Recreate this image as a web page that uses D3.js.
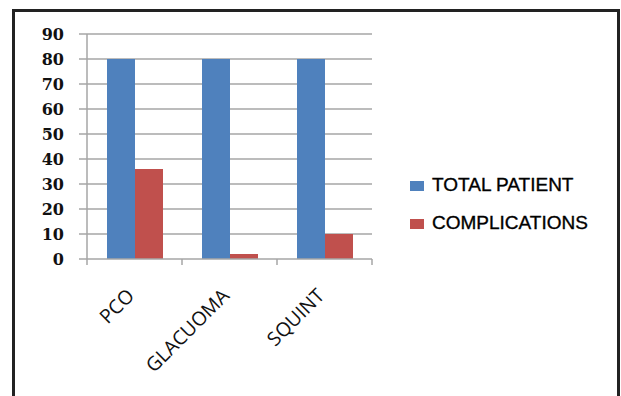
<!DOCTYPE html>
<html lang="en">
<head>
    <meta charset="UTF-8">
    <title>Patients and complications</title>
    <style>
        body { margin: 0; background: #fff; }
        svg { display: block; }
        .grid line { stroke: #a6a6a6; stroke-width: 1.5; }
        .ylab { font-family: "DejaVu Serif", serif; font-weight: bold; font-size: 16px; fill: #111; }
        .xlab { font-family: "Open Sans", sans-serif; font-size: 19.5px; fill: #111; }
        .legend text { font-family: "Liberation Sans", sans-serif; font-size: 19px; fill: #000; stroke: #000; stroke-width: 0.35; }
    </style>
</head>
<body>
    <svg width="621" height="396"></svg>
    <script src="https://d3js.org/d3.v7.min.js"></script>
    <script>
        const categories = ["PCO", "GLACUOMA", "SQUINT"];
        const seriesNames = ["TOTAL PATIENT", "COMPLICATIONS"];
        const totalPatient = [80, 80, 80];
        const complications = [36, 2, 10];
        const yTicks = [0, 10, 20, 30, 40, 50, 60, 70, 80, 90];
        const colors = ["#4f81bd", "#c0504d"];

        const svg = d3.select("svg");

        // frame round the whole chart
        svg.append("rect")
            .attr("x", 13.5).attr("y", 10.5)
            .attr("width", 605).attr("height", 400)
            .attr("fill", "none")
            .attr("stroke", "#222")
            .attr("stroke-width", 3);

        const plotLeft = 87, plotRight = 372, plotTop = 34, plotBottom = 259;

        const x = d3.scaleBand().domain(categories).range([plotLeft, plotRight]);
        const y = d3.scaleLinear().domain([0, 90]).range([plotBottom, plotTop]);
        const inner = d3.scaleBand().domain(seriesNames).range([0, 56]);

        // gridlines
        svg.append("g").attr("class", "grid")
            .selectAll("line").data(yTicks.filter(d => d > 0)).enter()
            .append("line")
            .attr("x1", plotLeft).attr("x2", plotRight)
            .attr("y1", d => y(d)).attr("y2", d => y(d));

        // y tick labels
        svg.append("g")
            .selectAll("text").data(yTicks).enter()
            .append("text")
            .attr("class", "ylab")
            .attr("x", 64)
            .attr("y", d => y(d) + 6)
            .attr("text-anchor", "end")
            .text(d => d);

        // y axis line with small ticks
        svg.append("line")
            .attr("x1", plotLeft).attr("x2", plotLeft).attr("y1", plotTop).attr("y2", plotBottom)
            .attr("stroke", "#a6a6a6").attr("stroke-width", 1.5);
        svg.append("g").selectAll("line").data(yTicks).enter()
            .append("line")
            .attr("x1", plotLeft - 8).attr("x2", plotLeft)
            .attr("y1", d => y(d)).attr("y2", d => y(d))
            .attr("stroke", "#a6a6a6").attr("stroke-width", 1.5);

        // bars
        const rows = categories.map((c, i) => ({ cat: c, vals: [totalPatient[i], complications[i]] }));
        const groups = svg.append("g").selectAll("g").data(rows).enter()
            .append("g")
            .attr("transform", d => "translate(" + (x(d.cat) + 20) + ",0)");
        groups.selectAll("rect")
            .data(d => d.vals.map((v, j) => ({ name: seriesNames[j], v: v, j: j })))
            .enter().append("rect")
            .attr("x", d => inner(d.name))
            .attr("width", inner.bandwidth())
            .attr("y", d => y(d.v))
            .attr("height", d => plotBottom - y(d.v))
            .attr("fill", d => colors[d.j]);

        // x axis line and category ticks
        svg.append("line")
            .attr("x1", plotLeft).attr("x2", plotRight).attr("y1", plotBottom).attr("y2", plotBottom)
            .attr("stroke", "#a6a6a6").attr("stroke-width", 1.5);
        const xTickPos = categories.map(c => x(c)).concat([plotRight]);
        svg.append("g").selectAll("line").data(xTickPos).enter()
            .append("line")
            .attr("x1", d => d).attr("x2", d => d)
            .attr("y1", plotBottom).attr("y2", plotBottom + 6)
            .attr("stroke", "#a6a6a6").attr("stroke-width", 1.5);

        // rotated category labels
        svg.append("g").selectAll("text").data(categories).enter()
            .append("text")
            .attr("class", "xlab")
            .attr("text-anchor", "end")
            .attr("transform", d => "translate(" + (x(d) + x.bandwidth() / 2 + 1) + ",297) rotate(-45)")
            .text(d => d);

        // legend
        const legend = svg.append("g").attr("class", "legend")
            .selectAll("g").data(seriesNames).enter()
            .append("g")
            .attr("transform", (d, i) => "translate(410," + (181 + i * 38) + ")");
        legend.append("rect")
            .attr("width", 14).attr("height", 10)
            .attr("fill", (d, i) => colors[i]);
        legend.append("text")
            .attr("x", 22).attr("y", 10)
            .text(d => d);
    </script>
</body>
</html>
